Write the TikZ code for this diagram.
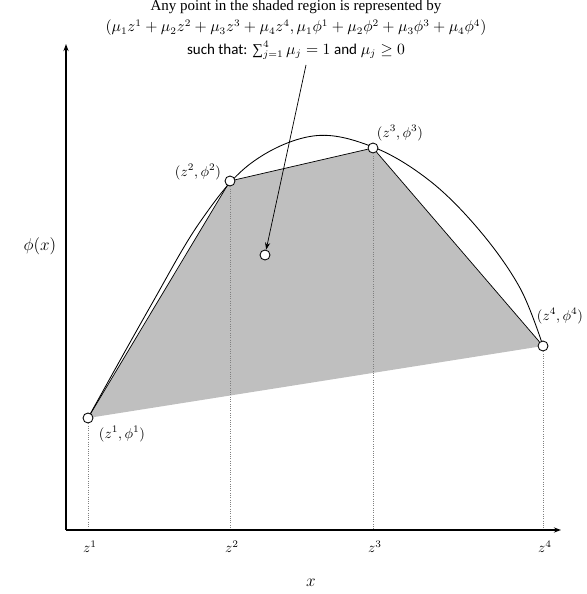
\documentclass[tikz,border=0pt]{standalone}
\usepackage{amsmath,amssymb}
\usepackage{fontspec}
\setmainfont{Liberation Serif}
\newfontfamily\calibrifont{Carlito}
\usetikzlibrary{arrows.meta,positioning,backgrounds}
\definecolor{hullgray}{RGB}{191,191,191}

\begin{document}
\begin{tikzpicture}[
    x=0.7pt, y=-0.7pt,
    >={Stealth[length=5pt,width=3.6pt]},
    ptnode/.style={circle, draw=black, fill=white, line width=0.6pt,
                   inner sep=0pt, minimum size=7pt},
    ptlabel/.style={font=\normalsize, inner sep=1pt},
    ticklabel/.style={font=\normalsize, inner sep=1pt},
    axisline/.style={->, line width=1.4pt},
    dropline/.style={gray, densely dotted, line width=0.6pt},
    hullside/.style={black, line width=0.5pt}
]
\useasboundingbox (0,0) rectangle (586,594);

% axes
\coordinate (O)    at (66,530);
\coordinate (ytop) at (66,44);
\coordinate (xend) at (561,530);

% break points and the convex combination
\node[ptnode] (p1) at ( 88,418) {};
\node[ptnode] (p2) at (230,181) {};
\node[ptnode] (p3) at (373,148) {};
\node[ptnode] (p4) at (543,346) {};
\node[ptnode] (pc) at (265,255) {};

\begin{scope}[on background layer]
  \fill[hullgray] (p1.center) -- (p2.center) -- (p3.center) -- (p4.center) -- cycle;
  \draw[line width=0.6pt] plot[smooth, tension=0.6] coordinates {
    (88,418) (150,307) (200,222) (250,164) (313,136) (373,147)
    (430,181) (480,231) (520,288) (543,346)};
\end{scope}

\draw[hullside] (p1) -- (p2);
\draw[hullside] (p2) -- (p3);
\draw[hullside] (p3) -- (p4);

\draw[dropline] (p1) -- (p1 |- O);
\draw[dropline] (p2) -- (p2 |- O);
\draw[dropline] (p3) -- (p3 |- O);
\draw[dropline] (p4) -- (p4 |- O);

\draw[axisline] (O) -- (ytop);
\draw[axisline] (O) -- (xend);

\node[ptlabel] (l1) at (122,434) {$(z^1,\phi^1)$};
\node[ptlabel] (l2) at (198,172) {$(z^2,\phi^2)$};
\node[ptlabel] (l3) at (400,133) {$(z^3,\phi^3)$};
\node[ptlabel] (l4) at (560,316) {$(z^4,\phi^4)$};

\node[ticklabel] (t1) at ( 90,547) {$z^1$};
\node[ticklabel] (t2) at (232,547) {$z^2$};
\node[ticklabel] (t3) at (375,547) {$z^3$};
\node[ticklabel] (t4) at (545,547) {$z^4$};

\node[font=\large] (xlab) at (311,583) {$x$};
\node[font=\large] (ylab) at (40,246) {$\phi(x)$};

\node[align=center, font=\fontsize{10.5}{13.5}\selectfont] (caption) at (296,30)
  {Any point in the shaded region is represented by\\[1.5pt]
   $(\mu_1z^1+\mu_2z^2+\mu_3z^3+\mu_4z^4,\mu_1\phi^1+\mu_2\phi^2+\mu_3\phi^3+\mu_4\phi^4)$\\[2pt]
   {\calibrifont such that:} $\mathop{\text{∑}}\nolimits_{j=1}^{4}\mu_j=1$ {\calibrifont and} $\mu_j\geq0$};

\coordinate (arrowtail) at (306,65);
\draw[->, line width=0.5pt] (arrowtail) -- (pc);

\end{tikzpicture}
\end{document}
